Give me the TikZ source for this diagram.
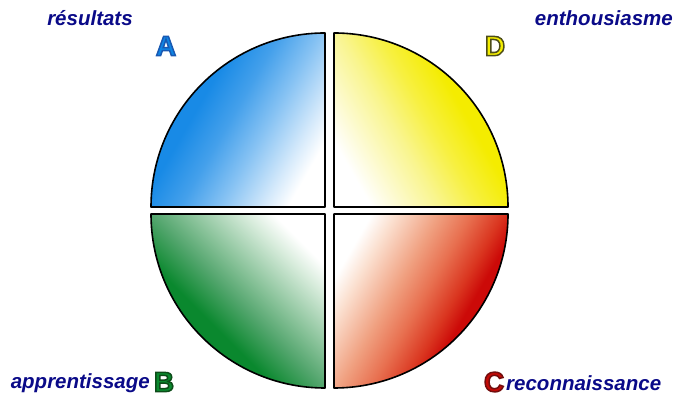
\documentclass[tikz,border=0pt]{standalone}
\usepackage{fontspec}
\setmainfont{Liberation Sans}
\usepackage{xcolor}
\usetikzlibrary{positioning}
\definecolor{quadblue}{HTML}{0E84E4}
\definecolor{quadyellow}{HTML}{F4EE00}
\definecolor{quadgreen}{HTML}{0A8A2E}
\definecolor{quadred}{HTML}{C40A06}
\definecolor{labelnavy}{HTML}{0A0A88}
% shadings, white at the centre corner (25bp), full colour at the rim (~60bp)
\pgfdeclareverticalshading{shadeblue}{100bp}{color(0bp)=(white); color(25bp)=(white);
  color(31bp)=(rgb,255:red,214;green,234;blue,251); color(42bp)=(rgb,255:red,134;green,194;blue,243);
  color(52bp)=(rgb,255:red,68;green,160;blue,235); color(62bp)=(rgb,255:red,24;green,138;blue,230);
  color(100bp)=(rgb,255:red,24;green,138;blue,230)}
\pgfdeclareverticalshading{shadeyellow}{100bp}{color(0bp)=(white); color(25bp)=(white);
  color(31bp)=(rgb,255:red,253;green,251;blue,216); color(42bp)=(rgb,255:red,249;green,245;blue,144);
  color(52bp)=(rgb,255:red,247;green,240;blue,64); color(62bp)=(rgb,255:red,244;green,236;blue,0);
  color(100bp)=(rgb,255:red,244;green,236;blue,0)}
\pgfdeclareverticalshading{shadegreen}{100bp}{color(0bp)=(white); color(25bp)=(white);
  color(31bp)=(rgb,255:red,216;green,236;blue,220); color(42bp)=(rgb,255:red,140;green,196;blue,156);
  color(50bp)=(rgb,255:red,84;green,166;blue,110); color(60bp)=(rgb,255:red,10;green,136;blue,46);
  color(100bp)=(rgb,255:red,10;green,136;blue,46)}
\pgfdeclareverticalshading{shadered}{100bp}{color(0bp)=(white); color(25bp)=(white);
  color(31bp)=(rgb,255:red,251;green,224;blue,208); color(42bp)=(rgb,255:red,240;green,160;blue,128);
  color(50bp)=(rgb,255:red,232;green,112;blue,80); color(58bp)=(rgb,255:red,218;green,54;blue,32);
  color(63bp)=(rgb,255:red,204;green,10;blue,8); color(100bp)=(rgb,255:red,204;green,10;blue,8)}
% outlined capital: fill colour, then stroke colour (r g b)
\newcommand{\outlined}[3]{{\color{#1}\special{pdf:code 2 Tr 1.5 w #2 RG}#3\special{pdf:code 0 Tr}}}

\begin{document}
\begin{tikzpicture}[
  x=1pt, y=1pt,
  quadrant/.style={draw=black, line width=1.6pt, line join=round, shading=#1},
  caption/.style={font=\fontsize{20.5}{23}\selectfont\bfseries\itshape, text=labelnavy, inner sep=0pt},
  letter/.style={font=\fontsize{28}{30}\selectfont\bfseries, inner sep=0pt}
]
\useasboundingbox (0,0) rectangle (676,398);

% === Quadrants (A top left, D top right, B bottom left, C bottom right) ===
\path[quadrant=shadeblue, shading angle=60]
  (325,191) -- (151,191) arc[start angle=180, end angle=90, radius=174] -- cycle;
\path[quadrant=shadeyellow, shading angle=-60]
  (334,191) -- (334,365) arc[start angle=90, end angle=0, radius=174] -- cycle;
\path[quadrant=shadegreen, shading angle=135]
  (325,184) -- (325,10) arc[start angle=270, end angle=180, radius=174] -- cycle;
\path[quadrant=shadered, shading angle=-120]
  (334,184) -- (508,184) arc[start angle=0, end angle=-90, radius=174] -- cycle;

% === Letters ===
\node[letter] (letA) at (166,352) {\outlined{quadblue}{0.1 0.35 0.7}{A}};
\node[letter] (letD) at (495,352) {\outlined{quadyellow}{0.3 0.3 0.1}{D}};
\node[letter] (letB) at (164,16) {\outlined{quadgreen}{0.05 0.3 0.1}{B}};
\node[letter] (letC) at (494,16) {\outlined{quadred}{0.45 0.05 0.05}{C}};

% === Captions ===
\node[caption] (resultats) at (90,380) {résultats};
\node[caption, anchor=east] (enthousiasme) at (673,380) {enthousiasme};
\node[caption, anchor=east] (apprentissage) at (150,15) {apprentissage};
\node[caption, anchor=west] (reconnaissance) at (506,15) {reconnaissance};

\end{tikzpicture}
\end{document}
